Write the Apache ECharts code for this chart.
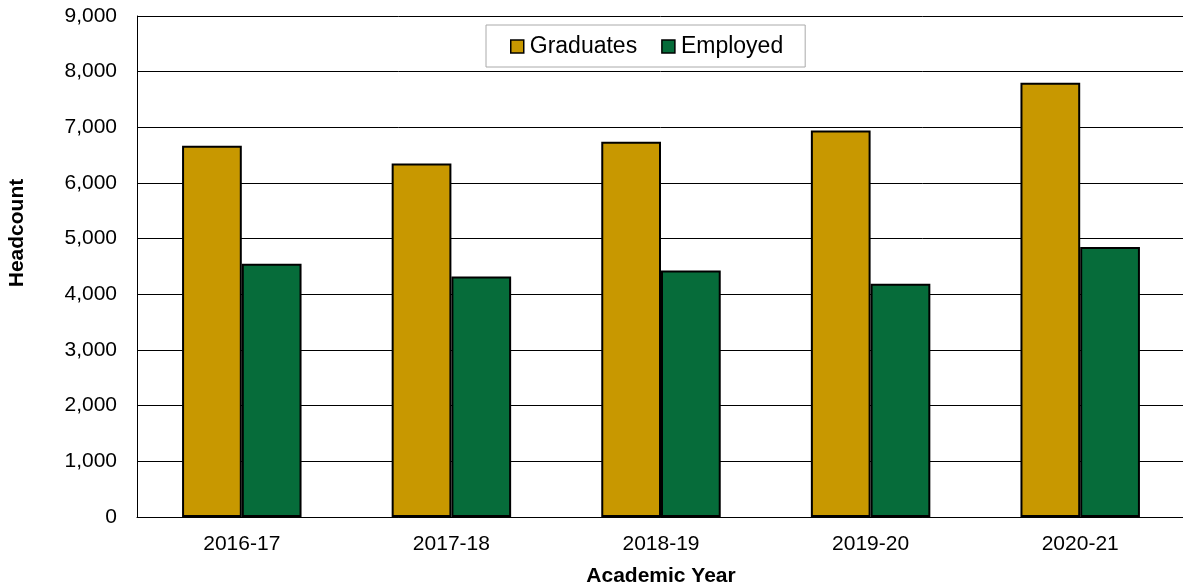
<!DOCTYPE html>
<html>
<head>
<meta charset="utf-8">
<script src="https://cdn.jsdelivr.net/npm/echarts@6/dist/echarts.min.js"></script>
<style>
  html, body { margin: 0; padding: 0; background: #fff; }
  #chart { width: 1183px; height: 584px; }
</style>
</head>
<body>
<div id="chart"></div>
<script>
// Graduates and employed headcount by academic year
const years = ['2016-17', '2017-18', '2018-19', '2019-20', '2020-21'];
const graduates = [6670, 6350, 6740, 6945, 7800];
const employed = [4550, 4320, 4430, 4190, 4850];

const GOLD = '#C89800';
const GREEN = '#066C3A';
const FONT = '"Liberation Sans", Arial, sans-serif';

const chart = echarts.init(document.getElementById('chart'), null, { renderer: 'canvas' });

chart.setOption({
  animation: false,
  backgroundColor: '#ffffff',
  textStyle: { fontFamily: FONT, color: '#000' },
  grid: {
    left: 137, top: 16, width: 1048, height: 501,
    containLabel: false,
    outerBoundsMode: 'none'
  },
  legend: {
    left: 486,
    top: 25,
    padding: [10, 22, 9, 24],
    icon: 'rect',
    itemWidth: 13,
    itemHeight: 13,
    itemGap: 24,
    borderColor: '#aaaaaa',
    borderWidth: 1,
    backgroundColor: '#ffffff',
    textStyle: { fontFamily: FONT, fontSize: 23, color: '#000', padding: [0, 0, 0, 1] },
    itemStyle: { borderColor: '#000', borderWidth: 1.5 },
    data: ['Graduates', 'Employed']
  },
  graphic: [{
    type: 'text',
    x: 17,
    y: 233,
    rotation: Math.PI / 2,
    style: {
      text: 'Headcount',
      font: 'bold 21px ' + FONT,
      fill: '#000',
      align: 'center',
      verticalAlign: 'middle'
    }
  }],
  xAxis: {
    type: 'category',
    data: years,
    name: 'Academic Year',
    nameLocation: 'middle',
    nameGap: 49,
    nameTextStyle: { fontFamily: FONT, fontSize: 21, fontWeight: 'bold', color: '#000' },
    axisLine: { show: true, lineStyle: { color: '#000', width: 1 } },
    axisTick: { show: false },
    axisLabel: { fontFamily: FONT, fontSize: 21, color: '#000', margin: 17 }
  },
  yAxis: {
    type: 'value',
    min: 0,
    max: 9000,
    interval: 1000,
    axisLine: { show: true, lineStyle: { color: '#000', width: 1 } },
    axisTick: { show: false },
    splitLine: { show: true, lineStyle: { color: '#000', width: 1 } },
    axisLabel: {
      fontFamily: FONT,
      fontSize: 21,
      color: '#000',
      margin: 20,
      formatter: v => v.toLocaleString('en-US')
    }
  },
  series: [
    {
      name: 'Graduates',
      type: 'bar',
      data: graduates,
      barGap: '0%',
      barCategoryGap: '43%',
      itemStyle: { color: GOLD, borderColor: '#000', borderWidth: 2 }
    },
    {
      name: 'Employed',
      type: 'bar',
      data: employed,
      barGap: '0%',
      barCategoryGap: '43%',
      itemStyle: { color: GREEN, borderColor: '#000', borderWidth: 2 }
    }
  ]
});
</script>
</body>
</html>
